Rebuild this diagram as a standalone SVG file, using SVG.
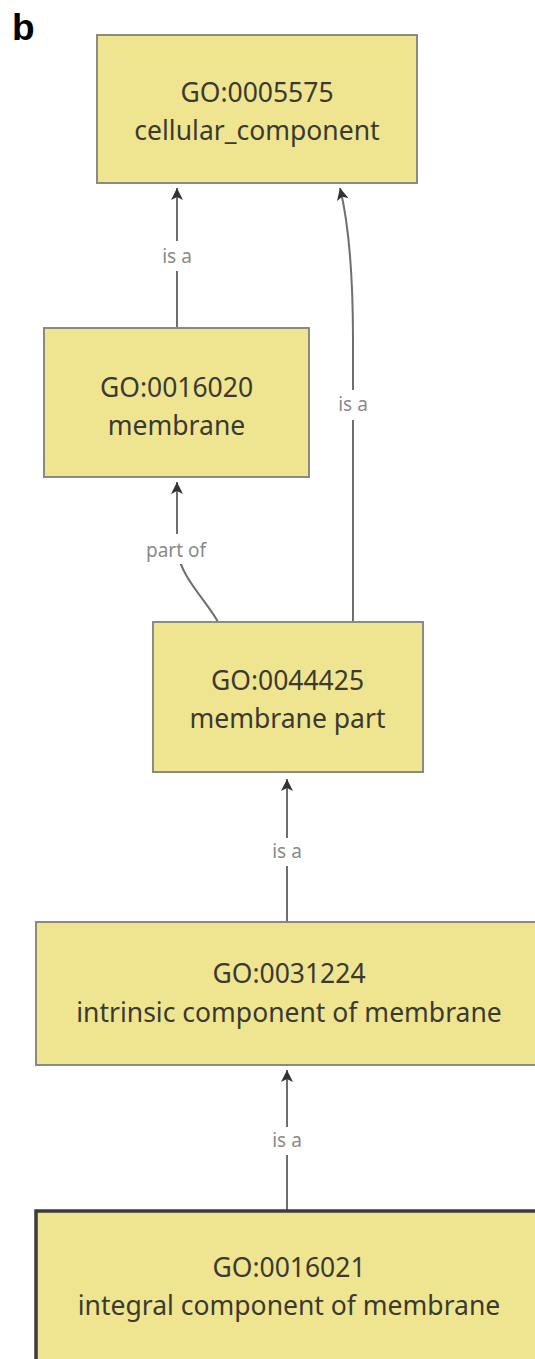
<svg xmlns="http://www.w3.org/2000/svg" width="535" height="1359" viewBox="0 0 535 1359">
  <style>
    .box { fill: #efe590; stroke: #8a8a80; stroke-width: 2; }
    .box.focus { stroke: #3c3c3c; stroke-width: 3.5; }
    .term { font-family: "Noto Sans", "Open Sans", sans-serif; font-size: 26.5px; fill: #3a3a30; text-anchor: middle; }
    .edge { fill: none; stroke: #6e6e6e; stroke-width: 2; }
    .elabel { font-family: "Noto Sans", "Open Sans", sans-serif; font-size: 19px; fill: #8a8a8a; text-anchor: middle; }
    .panel { font-family: "Liberation Sans", Arial, sans-serif; font-size: 37px; font-weight: bold; fill: #000; }
  </style>
  <defs>
    <marker id="arrow" viewBox="0 0 12 12" refX="12" refY="6" markerWidth="12" markerHeight="12" markerUnits="userSpaceOnUse" orient="auto">
      <path d="M0,0 L12,6 L0,12 L3,6 z" fill="#333"/>
    </marker>
  </defs>

  <rect width="535" height="1359" fill="#fff"/>

  <text class="panel" x="12" y="40">b</text>

  <!-- connectors: child → parent -->
  <g id="edges">
    <path class="edge" d="M177,328 L177,188" marker-end="url(#arrow)"/>
    <path class="edge" d="M353,622 L353,340 C353,270 349,225 340,188" marker-end="url(#arrow)"/>
    <path class="edge" d="M218,622 C206,600 181,578 177,550 L177,482" marker-end="url(#arrow)"/>
    <path class="edge" d="M287,922 L287,779" marker-end="url(#arrow)"/>
    <path class="edge" d="M287,1210 L287,1070" marker-end="url(#arrow)"/>
  </g>

  <!-- edge labels on white backing -->
  <g id="edge-labels">
    <rect x="158" y="241" width="38" height="30" fill="#fff"/>
    <text class="elabel" x="177" y="263">is a</text>
    <rect x="334" y="390" width="38" height="30" fill="#fff"/>
    <text class="elabel" x="353" y="411">is a</text>
    <rect x="138" y="534" width="76" height="30" fill="#fff"/>
    <text class="elabel" x="176" y="557">part of</text>
    <rect x="268" y="838" width="38" height="28" fill="#fff"/>
    <text class="elabel" x="287" y="858">is a</text>
    <rect x="268" y="1127" width="38" height="28" fill="#fff"/>
    <text class="elabel" x="287" y="1147">is a</text>
  </g>

  <g id="GO_0005575">
    <rect class="box" x="97" y="35" width="320" height="148"/>
    <text class="term" x="257" y="102">GO:0005575</text>
    <text class="term" x="257" y="140">cellular_component</text>
  </g>

  <g id="GO_0016020">
    <rect class="box" x="44" y="328" width="265" height="149"/>
    <text class="term" x="176.5" y="397">GO:0016020</text>
    <text class="term" x="176.5" y="435">membrane</text>
  </g>

  <g id="GO_0044425">
    <rect class="box" x="153" y="622" width="270" height="150"/>
    <text class="term" x="287.5" y="690">GO:0044425</text>
    <text class="term" x="287.5" y="728">membrane part</text>
  </g>

  <g id="GO_0031224">
    <rect class="box" x="36" y="922" width="510" height="143"/>
    <text class="term" x="289" y="983">GO:0031224</text>
    <text class="term" x="289" y="1022">intrinsic component of membrane</text>
  </g>

  <g id="GO_0016021">
    <rect class="box focus" x="36" y="1211" width="510" height="160"/>
    <text class="term" x="289" y="1277">GO:0016021</text>
    <text class="term" x="289" y="1315">integral component of membrane</text>
  </g>
</svg>
